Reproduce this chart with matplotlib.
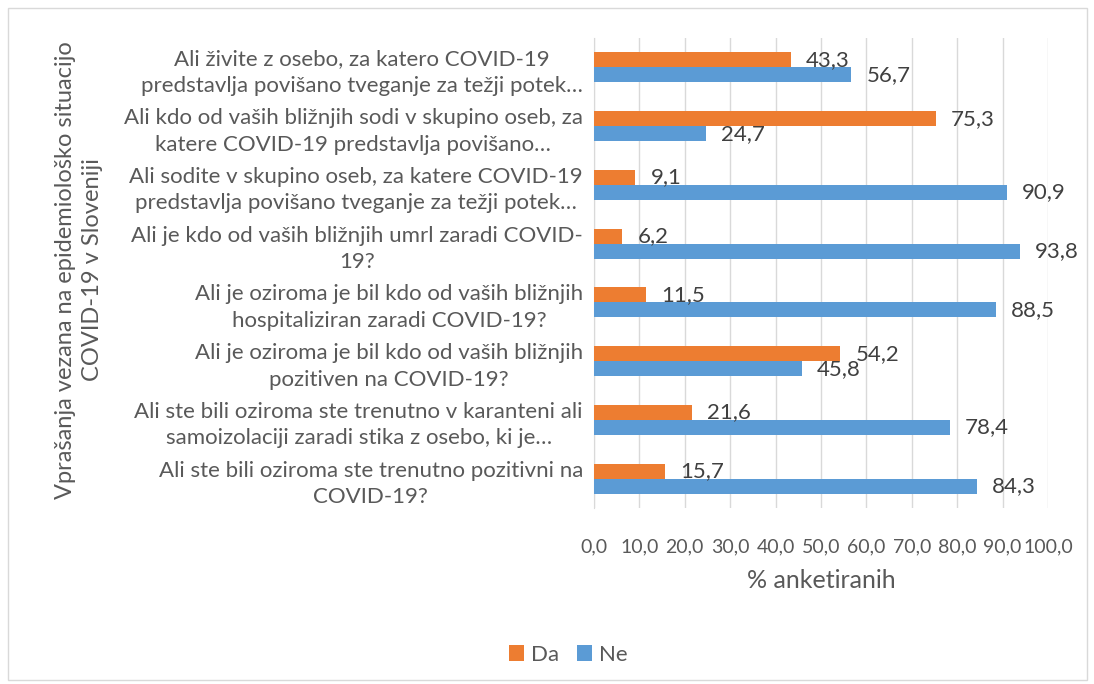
import matplotlib.pyplot as plt
import numpy as np
from matplotlib.patches import Rectangle

plt.rcParams['font.family'] = ['Lato', 'DejaVu Sans']

# Data (top to bottom as in the chart)
questions = [
    'Ali živite z osebo, za katero COVID-19\npredstavlja povišano tveganje za težji potek…',
    'Ali kdo od vaših bližnjih sodi v skupino oseb, za\nkatere COVID-19 predstavlja povišano…',
    'Ali sodite v skupino oseb, za katere COVID-19\npredstavlja povišano tveganje za težji potek…',
    'Ali je kdo od vaših bližnjih umrl zaradi COVID-\n19?',
    'Ali je oziroma je bil kdo od vaših bližnjih\nhospitaliziran zaradi COVID-19?',
    'Ali je oziroma je bil kdo od vaših bližnjih\npozitiven na COVID-19?',
    'Ali ste bili oziroma ste trenutno v karanteni ali\nsamoizolaciji zaradi stika z osebo, ki je…',
    'Ali ste bili oziroma ste trenutno pozitivni na\nCOVID-19?',
]
da = [43.3, 75.3, 9.1, 6.2, 11.5, 54.2, 21.6, 15.7]
ne = [56.7, 24.7, 90.9, 93.8, 88.5, 45.8, 78.4, 84.3]
x_ticks = [0, 10, 20, 30, 40, 50, 60, 70, 80, 90, 100]

col_da = '#ED7D31'
col_ne = '#5B9BD5'
txt = '#595959'
fs = 16

fig = plt.figure(figsize=(10.94, 6.84), dpi=100)
ax = fig.add_axes([594 / 1094, 1 - 508 / 684, 454 / 1094, 470 / 684])

# chart border
fig.patches.append(Rectangle((8 / 1094, 4 / 684), 1079 / 1094, 672 / 684,
                             transform=fig.transFigure, fill=False,
                             edgecolor='#D9D9D9', linewidth=1))

y = np.arange(len(questions))[::-1]
h = 0.255
b_da = ax.barh(y + h / 2, da, height=h, color=col_da, label='Da', zorder=3)
b_ne = ax.barh(y - h / 2, ne, height=h, color=col_ne, label='Ne', zorder=3)

for bars, vals in [(b_da, da), (b_ne, ne)]:
    for bar, v in zip(bars, vals):
        ax.annotate(f'{v:.1f}'.replace('.', ','),
                    (bar.get_width(), bar.get_y() + bar.get_height() / 2),
                    xytext=(11, 0), textcoords='offset points',
                    ha='left', va='center', fontsize=fs, color='#404040', zorder=4)

ax.set_xlim(0, 100)
ax.set_ylim(-0.5, len(questions) - 0.5)
ax.set_xticks(x_ticks)
ax.set_xticklabels([f'{t:.1f}'.replace('.', ',') for t in x_ticks], fontsize=14, color=txt)
ax.set_yticks(y)
ax.set_yticklabels(questions, fontsize=fs, color=txt, multialignment='center',
                   linespacing=1.4)
ax.tick_params(axis='both', length=0, pad=8)
ax.tick_params(axis='x', pad=22)
ax.grid(axis='x', color='#D9D9D9', linewidth=1, zorder=0)
for s in ['top', 'right', 'bottom']:
    ax.spines[s].set_visible(False)
ax.spines['left'].set_color('#D9D9D9')

ax.set_xlabel('% anketiranih', fontsize=18, color=txt, labelpad=10)
fig.text(79 / 1094, 1 - 270 / 684,
         'Vprašanja vezana na epidemiološko situacijo\nCOVID-19 v Sloveniji',
         rotation=90, ha='center', va='center', fontsize=17, color=txt,
         multialignment='center', linespacing=1.4)

fig.legend(handles=[b_da, b_ne], labels=['Da', 'Ne'], loc='center',
           bbox_to_anchor=(568 / 1094, 1 - 655 / 684), ncol=2, frameon=False,
           fontsize=16, labelcolor=txt, handlelength=0.7, handleheight=0.7,
           handletextpad=0.3, columnspacing=0.8)

plt.savefig('out.png', dpi=100)
